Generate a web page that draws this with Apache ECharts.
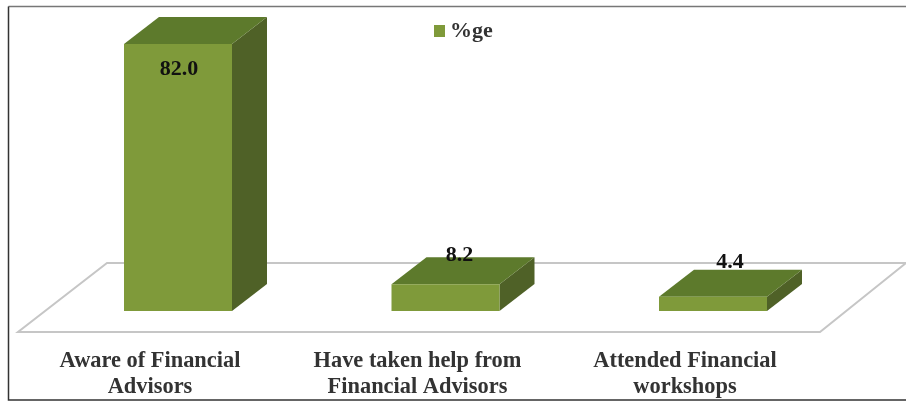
<!DOCTYPE html>
<html>
<head>
<meta charset="utf-8">
<style>html,body{margin:0;padding:0;background:#fff}#chart{width:906px;height:401px}</style>
<script src="https://cdn.jsdelivr.net/npm/echarts@6/dist/echarts.min.js"></script>
</head>
<body>
<div id="chart"></div>
<script>
const seriesName = '%ge';
const categories = ['Aware of Financial\nAdvisors', 'Have taken help from\nFinancial Advisors', 'Attended Financial\nworkshops'];
const values = [82.0, 8.2, 4.4];

// Oblique projection used for the box depth and the floor
const DEPTH_X = 35, DEPTH_Y = 27, BAR_WIDTH = 108;
const FRONT = '#7f9a3a', TOP = '#5d7a2c', SIDE = '#4f6127';
const labelShift = [[1, 25], [14, -29], [17, -34]];

const chart = echarts.init(document.getElementById('chart'));

function renderFloor(params, api) {
  const cs = params.coordSys;
  const y0 = cs.y + cs.height;
  const frontY = y0 + 21, backY = y0 - 48;
  return {
    type: 'polygon',
    silent: true,
    shape: { points: [[18, frontY], [820, frontY], [906, backY], [107, backY]] },
    style: { fill: '#fff', stroke: '#c6c6c6', lineWidth: 2 }
  };
}

function renderBox(params, api) {
  const base = api.coord([api.value(0), 0]);
  const top = api.coord([api.value(0), api.value(1)]);
  const l = base[0] - BAR_WIDTH / 2, r = base[0] + BAR_WIDTH / 2;
  const b = base[1], t = top[1];
  const dx = DEPTH_X, dy = DEPTH_Y;
  const shift = labelShift[params.dataIndex];
  return {
    type: 'group',
    children: [
      { type: 'polygon', shape: { points: [[r, b], [r + dx, b - dy], [r + dx, t - dy], [r, t]] }, style: { fill: SIDE } },
      { type: 'polygon', shape: { points: [[l, t], [r, t], [r + dx, t - dy], [l + dx, t - dy]] }, style: { fill: TOP } },
      { type: 'rect', shape: { x: l, y: t, width: BAR_WIDTH, height: b - t }, style: { fill: FRONT } },
      { type: 'text', style: {
          x: base[0] + shift[0], y: t + shift[1],
          text: api.value(1).toFixed(1),
          fill: '#111', font: 'bold 22px "Liberation Serif"',
          align: 'center', verticalAlign: 'middle' } }
    ]
  };
}

chart.setOption({
  animation: false,
  backgroundColor: '#fff',
  graphic: [
    { type: 'polyline', silent: true, z: -10,
      shape: { points: [[906, 6.5], [8.5, 6.5]] },
      style: { fill: 'none', stroke: '#777', lineWidth: 1.5 } },
    { type: 'polyline', silent: true, z: -10,
      shape: { points: [[8.5, 6.5], [8.5, 400], [906, 400]] },
      style: { fill: 'none', stroke: '#333', lineWidth: 1.5 } }
  ],
  legend: {
    data: [seriesName], left: 429, top: 15, icon: 'rect',
    itemWidth: 11, itemHeight: 12, itemGap: 6,
    textStyle: { fontFamily: 'Liberation Serif', fontWeight: 'bold', fontSize: 22, color: '#333' }
  },
  grid: { left: 44.25, top: 18, width: 802.5, height: 293 },
  xAxis: {
    type: 'category', data: categories,
    axisLine: { show: false }, axisTick: { show: false },
    axisLabel: {
      margin: 37, interval: 0, lineHeight: 26, padding: [0, 56, 0, 0],
      fontFamily: 'Liberation Serif', fontWeight: 'bold', fontSize: 22.4, color: '#333'
    }
  },
  yAxis: { type: 'value', min: 0, max: 90, show: false },
  series: [
    { type: 'custom', silent: true, renderItem: renderFloor, data: [0], z: 1, encode: { x: 0, y: 0 }, legendHoverLink: false },
    { type: 'custom', name: seriesName, renderItem: renderBox, z: 2,
      itemStyle: { color: FRONT },
      encode: { x: 0, y: 1 },
      data: values.map((v, i) => [i, v]) }
  ]
});
</script>
</body>
</html>
